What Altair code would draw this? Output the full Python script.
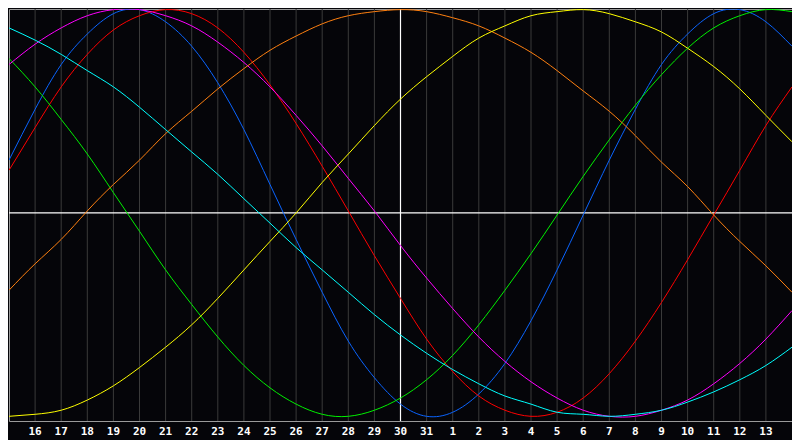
import altair as alt
import pandas as pd

# x index 0..30 (0 = day 15 at the left edge, 30 = day 14 at the right edge)
day_index = list(range(0, 31))
label_index = list(range(1, 30))
day_labels = ["16", "17", "18", "19", "20", "21", "22", "23", "24", "25", "26",
              "27", "28", "29", "30", "31", "1", "2", "3", "4", "5", "6", "7",
              "8", "9", "10", "11", "12", "13"]
today_index = [15]

# cycle values (%) at each day
physical = [26, 51, 73, 88, 98, 100, 94, 82, 64, 41, 14, -13, -39, -63, -81, -94,
            -100, -98, -89, -74, -53, -28, -1, 26, 51, 73, 88, 98, 100, 94, 82]
emotional = [21, 42, 62, 78, 90, 97, 100, 98, 91, 79, 63, 44, 23, 1, -21, -42,
             -62, -78, -90, -97, -100, -98, -91, -79, -63, -44, -23, -1, 21, 43, 62]
intellectual = [76, 62, 46, 29, 10, -9, -28, -45, -61, -75, -86, -94, -99, -100,
                -97, -91, -82, -70, -55, -38, -20, -1, 18, 36, 53, 68, 81, 91, 97, 100, 99]
intuitive = [73, 83, 91, 97, 100, 100, 97, 92, 84, 74, 62, 48, 33, 17, 1, -16,
             -32, -47, -61, -73, -83, -91, -97, -100, -100, -97, -92, -84, -74, -62, -48]
awareness = [-38, -25, -13, 1, 14, 26, 39, 50, 61, 71, 80, 87, 93, 97, 99, 100,
             99, 96, 92, 86, 79, 70, 60, 50, 38, 25, 13, -1, -14, -26, -39]
aesthetic = [-100, -99, -97, -92, -85, -76, -66, -55, -42, -28, -14, 0, 15, 29, 43,
             56, 67, 77, 86, 92, 97, 99, 100, 98, 94, 89, 81, 72, 61, 48, 35]
spiritual = [91, 85, 78, 70, 62, 52, 41, 30, 19, 7, -5, -17, -28, -39, -50, -60,
             -69, -77, -84, -90, -94, -98, -99, -100, -99, -97, -93, -88, -82, -75, -66]

series_names = ["physical", "emotional", "intellectual", "intuitive",
                "awareness", "aesthetic", "spiritual"]
series_values = [physical, emotional, intellectual, intuitive,
                 awareness, aesthetic, spiritual]
series_colors = ["#0a64ff", "#ff0000", "#00f000", "#ff00ff",
                 "#ff8010", "#ffff00", "#00ffff"]

rows = []
for name, vals in zip(series_names, series_values):
    for t, v in zip(day_index, vals):
        rows.append({"t": t, "v": v, "series": name})
df = pd.DataFrame(rows)
labels_df = pd.DataFrame({"idx": label_index, "label": day_labels})
today_df = pd.DataFrame({"idx": today_index})
zero_df = pd.DataFrame({"v": [0]})

W, H = 783, 412
xs = alt.Scale(domain=[0, 30], nice=False, zero=False)
ys = alt.Scale(domain=[-102.3, 100.3], nice=False, zero=False)

grid = alt.Chart(labels_df).mark_rule(color="#3a3a3a", strokeWidth=1).encode(
    x=alt.X("idx:Q", scale=xs, axis=None)
)
today = alt.Chart(today_df).mark_rule(color="#ffffff", strokeWidth=1.2).encode(
    x=alt.X("idx:Q", scale=xs, axis=None)
)
zero = alt.Chart(zero_df).mark_rule(color="#ffffff", strokeWidth=1.2).encode(
    y=alt.Y("v:Q", scale=ys, axis=None)
)
lines = alt.Chart(df).mark_line(strokeWidth=1, interpolate="natural", clip=True).encode(
    x=alt.X("t:Q", scale=xs, axis=None),
    y=alt.Y("v:Q", scale=ys, axis=None),
    color=alt.Color("series:N", scale=alt.Scale(domain=series_names, range=series_colors),
                    legend=None),
)
labels = alt.Chart(labels_df).mark_text(
    color="#ffffff", font="DejaVu Sans Mono", fontWeight="bold", fontSize=11,
    align="center", baseline="middle"
).encode(
    x=alt.X("idx:Q", scale=xs, axis=None),
    y=alt.value(H + 11),
    text="label:N",
)

chart = alt.layer(grid, today, zero, lines, labels).properties(
    width=W, height=H,
    autosize=alt.AutoSizeParams(type="none"),
    padding={"left": 1, "top": 1, "right": 0, "bottom": 19},
    background="#050509",
).configure_view(stroke="#9a9a9a", strokeWidth=1)

chart.save("out.html", embed_options={"renderer": "svg", "actions": False})
